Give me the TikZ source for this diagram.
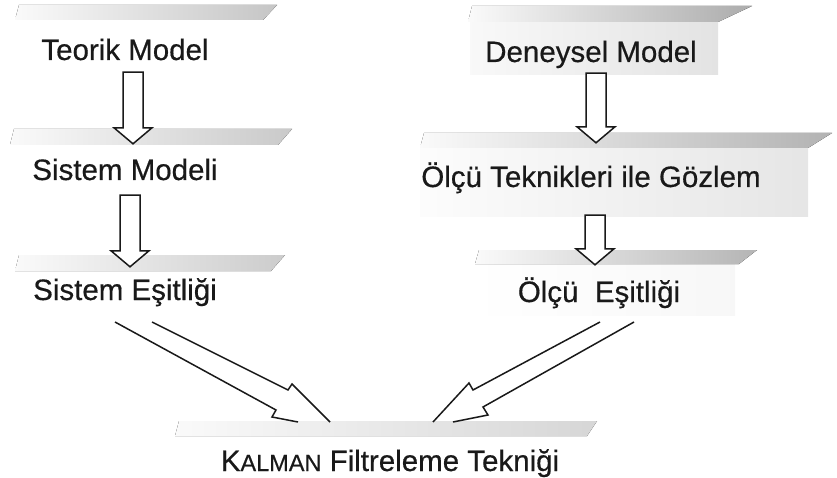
\documentclass[tikz,border=0pt]{standalone}
\usepackage{fontspec}
\setmainfont{Liberation Sans}[FakeBold=0.5]
\usetikzlibrary{positioning}
\usetikzlibrary{calc}

% grey slab: x0, y0, x1, y1, slant, darkness
\newcommand{\slab}[6]{%
  \fill[left color=gray!4, right color=gray!#6] (#1,#4) -- (#1+4,#2) -- (#3,#2) -- (#3-#5,#4) -- cycle;}

\begin{document}
\begin{tikzpicture}[x=1pt,y=-1pt,node distance=120pt,
	lbl/.style={font=\fontsize{29.5}{34}\selectfont,text=black!90,inner sep=0pt,
		text height=21pt,text depth=6pt},
	blockarrow/.style={draw=black!90,line width=1.5pt,fill=white,
		to path={let \p1=(\tikztostart), \p2=(\tikztotarget) in
		(\x1-10pt,\y1) -- (\x1-10pt,\y2+16pt) -- (\x1-19pt,\y2+16pt) -- (\x1,\y2)
		-- (\x1+19pt,\y2+16pt) -- (\x1+10pt,\y2+16pt) -- (\x1+10pt,\y1) -- cycle}},
	openarrow/.style={draw=black!90,line width=1.5pt,line join=miter}]
	
	\useasboundingbox (0,0) rectangle (837,478);
	
	% faces and slabs
	\fill[left color=gray!5, right color=gray!22] (470,22) rectangle (718,75);
	\fill[left color=gray!2, right color=gray!20] (420,148) rectangle (808,217);
	\fill[left color=white, right color=gray!6] (470,264) rectangle (735,315);
	\slab{15}{5}{277}{20}{14}{45}
	\slab{10}{129}{292}{145}{14}{42}
	\slab{15}{255}{285}{271}{14}{40}
	\slab{468}{6}{752}{22}{34}{65}
	\slab{420}{133}{832}{148}{24}{60}
	\slab{475}{250}{757}{264}{18}{58}
	\slab{175}{421}{597}{436}{10}{32}
	
	\node[lbl] (tm) at (125,52.5) {Teorik Model};
	\node[lbl] (sm) [below of=tm] {Sistem Modeli};
	\node[lbl] (se) [below of=sm] {Sistem Eşitliği};
	\node[lbl] (dm) at (591,54.5) {Deneysel Model};
	\node[lbl] (ot) [below of=dm,node distance=125pt] {Ölçü Teknikleri ile Gözlem};
	\node[lbl] (oe) [below of=ot,node distance=115pt,xshift=8pt] {Ölçü\ \ Eşitliği};
	\node[lbl] (kf) at (390,463.5) {K{\fontsize{23.5}{28}\selectfont ALMAN} Filtreleme Tekniği};
	
	\draw[blockarrow] ([xshift=8pt,yshift=-6pt]tm.south) to ([xshift=8pt,yshift=15pt]sm.north);
	\draw[blockarrow] ([xshift=5pt,yshift=-9pt]sm.south) to ([xshift=5pt,yshift=12pt]se.north);
	\draw[blockarrow] ([xshift=5pt,yshift=-5pt]dm.south) to ([xshift=5pt,yshift=23pt]ot.north);
	\draw[blockarrow] ([xshift=4pt,yshift=-22pt]ot.south) to ([xshift=4pt,yshift=16pt]oe.north);
	
	\draw[openarrow] (115,322) -- (276,410) -- (272,417) -- (298,422);
	\draw[openarrow] (152,322) -- (288,390) -- (292,384) -- (330,422);
	\draw[openarrow] (634,322) -- (483,407) -- (488,415) -- (453,422);
	\draw[openarrow] (600,322) -- (473,390) -- (469,383) -- (433,422);
\end{tikzpicture}
\end{document}
